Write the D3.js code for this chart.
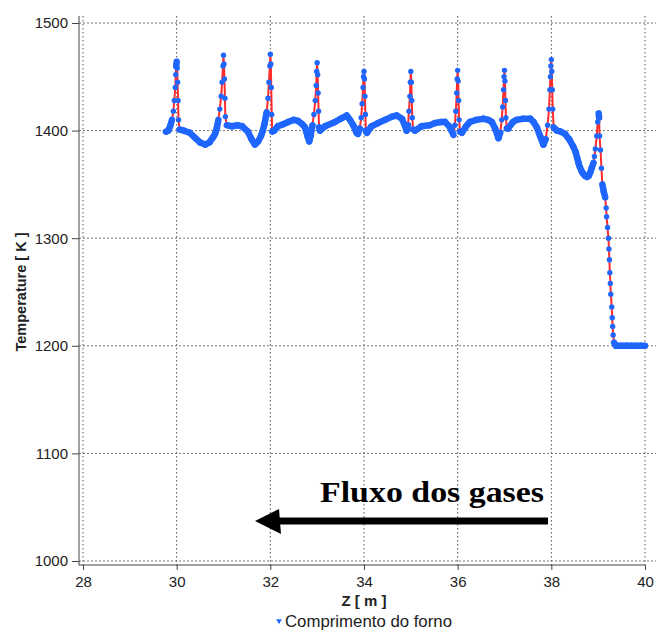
<!DOCTYPE html>
<html>
<head>
<meta charset="utf-8">
<script src="https://cdn.jsdelivr.net/npm/d3@7"></script>
<style>
  html, body { margin: 0; padding: 0; background: #fff; }
  svg { display: block; font-family: "Liberation Sans", Arial, sans-serif; }
</style>
</head>
<body>
<div id="root"></div>
<script>
// values
const zVals = [
  29.77, 29.82, 29.86, 29.90, 29.93, 29.95, 29.97, 29.98, 29.99, 30.00, 30.01, 30.02, 30.03, 30.04, 30.06,
  30.15, 30.28, 30.40, 30.50, 30.61, 30.70, 30.78, 30.82, 30.86, 30.89, 30.92, 30.95, 30.97, 30.99, 31.00,
  31.01, 31.02, 31.03, 31.04, 31.07, 31.18, 31.30, 31.40, 31.52, 31.60, 31.67, 31.74, 31.80, 31.84, 31.88,
  31.92, 31.95, 31.97, 31.99, 32.00, 32.01, 32.02, 32.03, 32.04, 32.08, 32.16, 32.28, 32.38, 32.50, 32.59,
  32.68, 32.74, 32.80, 32.83, 32.86, 32.90, 32.93, 32.96, 32.98, 32.99, 33.00, 33.01, 33.02, 33.03, 33.04,
  33.06, 33.17, 33.38, 33.50, 33.63, 33.70, 33.77, 33.84, 33.87, 33.91, 33.94, 33.96, 33.98, 33.99, 34.00,
  34.01, 34.02, 34.03, 34.04, 34.06, 34.16, 34.30, 34.45, 34.60, 34.70, 34.81, 34.87, 34.91, 34.94, 34.96,
  34.98, 34.99, 35.00, 35.01, 35.02, 35.03, 35.05, 35.09, 35.23, 35.40, 35.52, 35.65, 35.73, 35.82, 35.87,
  35.91, 35.94, 35.96, 35.98, 35.99, 36.00, 36.01, 36.02, 36.03, 36.05, 36.09, 36.18, 36.26, 36.40, 36.55,
  36.65, 36.73, 36.80, 36.87, 36.91, 36.94, 36.96, 36.98, 36.99, 37.00, 37.01, 37.02, 37.03, 37.05, 37.08,
  37.18, 37.26, 37.40, 37.55, 37.62, 37.69, 37.76, 37.83, 37.88, 37.92, 37.95, 37.97, 37.98, 37.99, 38.00,
  38.01, 38.02, 38.03, 38.05, 38.12, 38.20, 38.29, 38.38, 38.47, 38.52, 38.55, 38.58, 38.61, 38.65, 38.68,
  38.72, 38.76, 38.80, 38.83, 38.86, 38.90, 38.92,
  38.94, 38.97, 38.99, 39.01, 39.02, 39.03, 39.05, 39.07, 39.09, 39.12, 39.15, 39.17, 39.18, 39.20, 39.22,
  39.23, 39.24, 39.25, 39.26, 39.27, 39.29, 39.30, 39.31, 39.32, 39.34, 39.38, 39.50, 39.60, 39.70, 39.80,
  39.90, 40.00
]
const tempVals = [
  1399, 1400, 1404, 1410, 1418, 1428, 1440, 1452, 1460, 1464, 1458, 1445, 1428, 1410, 1401,
  1400, 1398, 1393, 1389, 1387, 1389, 1394, 1397, 1403, 1410, 1420, 1432, 1445, 1460, 1470,
  1462, 1448, 1430, 1413, 1405, 1404, 1405, 1404, 1399, 1392, 1387, 1390, 1395, 1400, 1407,
  1417, 1430, 1445, 1460, 1471, 1462, 1440, 1415, 1399, 1400, 1404, 1406, 1408, 1410, 1409,
  1406, 1403, 1394, 1390, 1395, 1405, 1415, 1428, 1442, 1455, 1463, 1452, 1435, 1418, 1403,
  1400, 1404, 1408, 1411, 1414, 1410, 1405, 1398, 1397, 1402, 1412, 1425, 1440, 1450, 1455,
  1448, 1432, 1415, 1400, 1398, 1404, 1407, 1410, 1413, 1414, 1411, 1405, 1400, 1405, 1418,
  1432, 1445, 1455, 1445, 1428, 1412, 1401, 1400, 1404, 1405, 1407, 1408, 1408, 1404, 1400,
  1396, 1405, 1418, 1435, 1448, 1456, 1446, 1428, 1410, 1399, 1398, 1404, 1408, 1410, 1411,
  1410, 1408, 1402, 1393, 1398, 1410, 1422, 1438, 1450, 1456, 1446, 1428, 1412, 1402, 1402,
  1408, 1410, 1411, 1411, 1408, 1403, 1395, 1387, 1392, 1405, 1420, 1438, 1450, 1460, 1466,
  1455, 1438, 1420, 1403, 1400, 1399, 1397, 1392, 1385, 1380, 1375, 1370, 1366, 1362, 1360,
  1358, 1357, 1358, 1361, 1365, 1370, 1376,
  1383, 1395, 1408, 1416, 1412, 1395, 1382, 1365, 1350, 1343, 1338, 1328, 1320, 1310, 1300,
  1290, 1280, 1268, 1258, 1248, 1236, 1226, 1218, 1210, 1203, 1200, 1200, 1200, 1200, 1200,
  1200, 1200
]
const xTicks = [28, 30, 32, 34, 36, 38, 40]
const xMinor = d3.range(28, 40.01, 0.5)
const yTicks = [1000, 1100, 1200, 1300, 1400, 1500]
const yMinor = d3.range(1000, 1501, 50)
const seriesName = 'Comprimento do forno'
const flowLabel = 'Fluxo dos gases'

const W = 657, H = 630
const blue = '#1f66ff', red = '#ff2b2b'

document.getElementById('root').innerHTML += `<svg width=${W} height=${H}></svg>`
let svg = d3.select('svg')

let x = d3.scaleLinear().domain([28, 40]).range([83, 645])
let y = d3.scaleLinear().domain([1000, 1500]).range([561, 23])
let axisX = 79, axisY = 565

// grid
svg.append('g')
   .selectAll('line')
   .data(yTicks).enter()
   .append('line')
   .attr('x1', axisX).attr('x2', 656)
   .attr('y1', d => y(d)).attr('y2', d => y(d))
   .attr('stroke', '#777').attr('stroke-dasharray', '2,2')

svg.append('g')
   .selectAll('line')
   .data(xTicks).enter()
   .append('line')
   .attr('x1', d => x(d)).attr('x2', d => x(d))
   .attr('y1', 16).attr('y2', axisY)
   .attr('stroke', '#555').attr('stroke-dasharray', '1.5,2.5')

// axes
let gy = svg.append('g').attr('transform', `translate(${axisX},0)`)
gy.call(d3.axisLeft(y).tickValues(yMinor).tickSize(4).tickFormat(''))
gy.call(d3.axisLeft(y).tickValues(yTicks).tickSize(7).tickPadding(4).tickFormat(d3.format('d')))
gy.selectAll('.domain').remove()
gy.selectAll('line').attr('stroke', '#444')
gy.selectAll('text').attr('font-size', 15).attr('fill', '#222')
gy.append('line').attr('x1', 0).attr('x2', 0).attr('y1', 16).attr('y2', axisY).attr('stroke', '#444')

let gx = svg.append('g').attr('transform', `translate(0,${axisY})`)
gx.call(d3.axisBottom(x).tickValues(xMinor).tickSize(3).tickFormat(''))
gx.call(d3.axisBottom(x).tickValues(xTicks).tickSize(5).tickPadding(6).tickFormat(d3.format('d')))
gx.selectAll('.domain').remove()
gx.selectAll('line').attr('stroke', '#444')
gx.selectAll('text').attr('font-size', 15).attr('fill', '#222')
gx.append('line').attr('x1', axisX).attr('x2', 645).attr('y1', 0).attr('y2', 0).attr('stroke', '#444')

// axis titles
svg.append('text')
   .attr('x', x(34)).attr('y', 606)
   .attr('text-anchor', 'middle')
   .attr('font-size', 15).attr('font-weight', 'bold').attr('fill', '#222')
   .text('Z [ m ]')

svg.append('text')
   .attr('transform', `translate(26,${y(1250)}) rotate(-90)`)
   .attr('text-anchor', 'middle')
   .attr('font-size', 14.5).attr('font-weight', 'bold').attr('fill', '#222')
   .text('Temperature [ K ]')

// series
let pts = zVals.map((z, i) => ({z: z, t: tempVals[i]}))
let line = d3.line().x(d => x(d.z)).y(d => y(d.t))

svg.append('path')
   .attr('d', line(pts))
   .attr('fill', 'none').attr('stroke', red).attr('stroke-width', 2)

// markers merge into a band where the curve is flat; thin red shows where it is steep
let flat = []
for (let i = 1; i < pts.length; i++) {
  let dx = Math.abs(x(pts[i].z) - x(pts[i - 1].z))
  let dy = Math.abs(y(pts[i].t) - y(pts[i - 1].t))
  if (!(dy > 5 && dy > 6 * dx)) flat.push([pts[i - 1], pts[i]])
}
svg.append('g')
   .selectAll('path')
   .data(flat).enter()
   .append('path')
   .attr('d', d => line(d))
   .attr('fill', 'none').attr('stroke', blue)
   .attr('stroke-width', 6.5).attr('stroke-linecap', 'round')

svg.append('g')
   .selectAll('circle')
   .data(pts).enter()
   .append('circle')
   .attr('cx', d => x(d.z)).attr('cy', d => y(d.t))
   .attr('r', 2.7).attr('fill', blue)

// legend
svg.append('path')
   .attr('d', d3.symbol(d3.symbolTriangle, 14)())
   .attr('transform', 'translate(279,621) rotate(180)')
   .attr('fill', blue)
svg.append('text')
   .attr('x', 285).attr('y', 627)
   .attr('font-size', 16.8).attr('fill', '#222')
   .text(seriesName)

// flow annotation
svg.append('text')
   .attr('x', 320).attr('y', 502)
   .attr('font-family', '"Liberation Serif", "Times New Roman", serif')
   .attr('font-size', 29).attr('font-weight', 'bold').attr('fill', '#000')
   .attr('textLength', 224).attr('lengthAdjust', 'spacingAndGlyphs')
   .text(flowLabel)
svg.append('line')
   .attr('x1', 548).attr('x2', 276)
   .attr('y1', 521).attr('y2', 521)
   .attr('stroke', '#000').attr('stroke-width', 7)
svg.append('path')
   .attr('d', 'M255,521 L279,509 L281,534 Z')
   .attr('fill', '#000')
</script>
</body>
</html>
